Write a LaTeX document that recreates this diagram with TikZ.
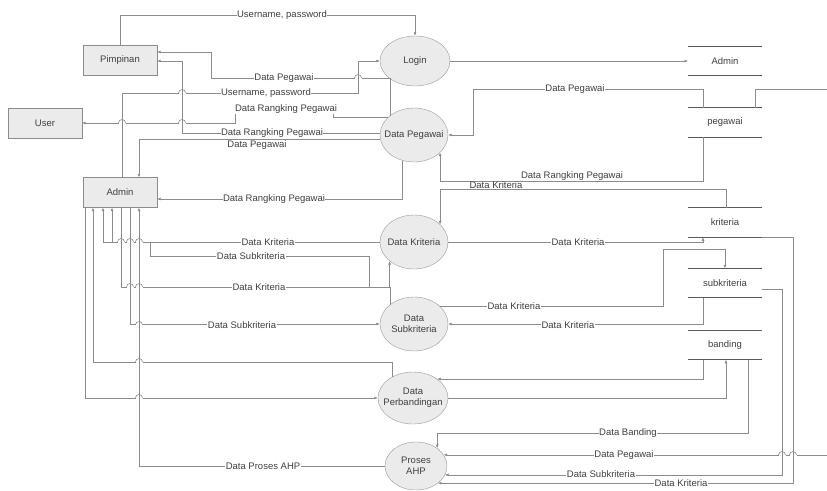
\documentclass[tikz,border=0pt]{standalone}
\usepackage{fontspec}
\setmainfont{Liberation Sans}
\usetikzlibrary{shapes.geometric,arrows.meta,positioning}

\tikzset{
  entity/.style={rectangle, draw=black!45, fill=black!8, minimum width=74, minimum height=30, inner sep=0pt, text=black!75},
  proc/.style={ellipse, draw=black!40, fill=black!8, minimum width=68, minimum height=54, inner sep=-8pt, align=center, text=black!75},
  store/.style={rectangle, minimum width=74, minimum height=29.5, inner sep=0pt, outer sep=0pt, text=black!75},
  storeline/.style={draw=black!65, line width=1.1pt},
  flow/.style={draw=black!45, line width=0.6pt, -{Latex[length=3.5pt,width=3pt]}},
  lbl/.style={fill=white, inner sep=0.5pt, text=black!75},
}

\begin{document}
\begin{tikzpicture}[x=1pt, y=-1pt, font=\fontsize{9.5}{11}\selectfont]
  \useasboundingbox (0,0) rectangle (827,490);
  \clip (0,0) rectangle (827,490);

  %External entities
  \node[entity] (pimpinan) at (120,60.5) {Pimpinan};
  \node[entity] (user) at (45,123) {User};
  \node[entity] (admin) at (120,192.5) {Admin};

  %Processes
  \node[proc, minimum width=70, minimum height=50] (login) at (415,61) {Login};
  \node[proc] (dpeg) at (414,135) {Data Pegawai};
  \node[proc] (dkrit) at (414,242) {Data Kriteria};
  \node[proc] (dsub) at (414,324) {Data\\Subkriteria};
  \node[proc, minimum width=70, minimum height=52] (dperb) at (413,398) {Data\\Perbandingan};
  \node[proc, minimum width=62, minimum height=48] (ahp) at (416,466) {Proses\\AHP};

  %Data stores
  \node[store] (sadmin) at (725,61) {Admin};
  \node[store] (speg) at (725,122.5) {pegawai};
  \node[store] (skrit) at (725,222.5) {kriteria};
  \node[store] (ssub) at (725,283) {subkriteria};
  \node[store] (sband) at (725,345) {banding};
  \foreach \s in {sadmin,speg,skrit,ssub,sband}
    \draw[storeline] (\s.north west) -- (\s.north east) (\s.south west) -- (\s.south east);

  %Flows top
  \draw[flow] (pimpinan.north) |- (login.north |- 0,15) -- (login.north);
  \draw[flow] (login.east) -- (login.east -| sadmin.west);
  \draw[flow] (dpeg.141) |- (211,78) |- (pimpinan.east |- 0,52);
  \draw[flow] (admin.north -| 122,0) |- (358,93) |- (login.west);
  \draw[flow] (dpeg.147) -| (333,110) -| (235,123) -- (user.east);
  \draw[flow] (dpeg.177) -| (182,61) -- (pimpinan.east |- 0,61);
  \draw[flow] (dpeg.187) -| (admin.north -| 139,0);
  \draw[flow] (dpeg.245) |- (admin.east |- 0,199);
  \draw[flow] (703,0 |- speg.north) |- (473,89) |- (dpeg.east);
  \draw[flow] (755,0 |- speg.north) |- (840,89) |- (ahp.22);
  \draw[flow] (703,0 |- speg.south) |- (dpeg.326 |- 0,181) -- (dpeg.326);
  \draw[flow] (726,0 |- skrit.north) |- (dkrit.34 |- 0,189) -- (dkrit.34);

  %Flows kriteria / subkriteria
  \draw[flow] (dkrit.east) -| (703,0 |- skrit.south);
  \draw[flow] (dkrit.west) -| (admin.south -| 103,0);
  \draw[flow] (dsub.141) |- (369,287) |- (150,256) |- (112,242) -- (admin.south -| 112,0);
  \draw[flow] (admin.south -| 121,0) |- (dkrit.218 |- 0,287) -- (dkrit.218);
  \draw[flow] (admin.south -| 130,0) |- (dsub.west);
  \draw[flow] (dsub.35) -| (663,249) -| (725,0 |- ssub.north);
  \draw[flow] (703,0 |- ssub.south) |- (dsub.east);

  %Flows perbandingan / AHP
  \draw[flow] (dperb.135) |- (93,362) -- (admin.south -| 93,0);
  \draw[flow] (admin.south -| 85,0) |- (dperb.west);
  \draw[flow] (703,0 |- sband.south) |- (dperb.38);
  \draw[flow] (dperb.east) -| (726,0 |- sband.south);
  \draw[flow] (ahp.west) -| (admin.south -| 139,0);
  \draw[flow] (748,0 |- sband.south) |- (ahp.40 |- 0,433) -- (ahp.40);
  \draw[flow] (ssub.east |- 0,289) -| (782,0 |- ahp.343) -- (ahp.343);
  \draw[flow] (skrit.south east) -| (793,0 |- ahp.322) -- (ahp.322);

  %Line hops
  \foreach \p in {(182,93),(122,123),(182,123),(358,78),(121,242),(130,242),(139,242),
                  (130,287),(139,287),(139,325),(139,362),(139,398),(782,455),(793,455)} {
    \fill[white] \p +(-3.5,-1.2) rectangle +(3.5,1.2);
    \draw[black!45, line width=0.6pt] \p +(0,-1.5) -- +(0,1.5);
    \draw[black!45, line width=0.6pt] \p +(-3.5,0) arc[start angle=180, end angle=360, radius=3.5];
  }

  %Labels
  \node[lbl] (lupw1) at (282,15) {Username, password};
  \node[lbl] (ldp1) at (284,78) {Data Pegawai};
  \node[lbl] (lupw2) at (266,93) {Username, password};
  \node[lbl] (ldrp1) at (286,109) {Data Rangking Pegawai};
  \node[lbl] (ldrp2) at (272,133) {Data Rangking Pegawai};
  \node[lbl, fill=none] (ldp2) at (257,145) {Data Pegawai};
  \node[lbl] (ldp3) at (575,89) {Data Pegawai};
  \node[lbl, fill=none] (ldrp3) at (572,176) {Data Rangking Pegawai};
  \node[lbl, fill=none] (ldk1) at (496,185) {Data Kriteria};
  \node[lbl] (ldrp4) at (274,199) {Data Rangking Pegawai};
  \node[lbl] (ldk2) at (268,242) {Data Kriteria};
  \node[lbl] (ldk3) at (578,242) {Data Kriteria};
  \node[lbl] (lds1) at (251,256) {Data Subkriteria};
  \node[lbl] (ldk4) at (259,287) {Data Kriteria};
  \node[lbl] (ldk5) at (514,306) {Data Kriteria};
  \node[lbl] (lds2) at (242,325) {Data Subkriteria};
  \node[lbl] (ldk6) at (568,325) {Data Kriteria};
  \node[lbl] (ldb) at (628,433) {Data Banding};
  \node[lbl] (ldp4) at (624,455) {Data Pegawai};
  \node[lbl] (lahp) at (263,466) {Data Proses AHP};
  \node[lbl] (lds3) at (601,474) {Data Subkriteria};
  \node[lbl] (ldk7) at (681,483) {Data Kriteria};
\end{tikzpicture}
\end{document}
